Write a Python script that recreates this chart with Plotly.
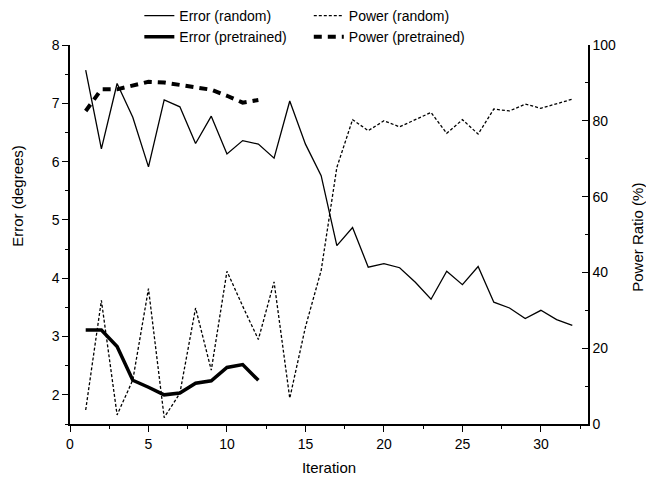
import plotly.graph_objects as go

iterations_random = list(range(1, 33))
error_random = [7.57, 6.22, 7.34, 6.76, 5.91, 7.06, 6.94, 6.31, 6.78, 6.13,
                6.36, 6.30, 6.06, 7.04, 6.30, 5.76, 4.56, 4.87, 4.19, 4.25,
                4.18, 3.93, 3.64, 4.12, 3.89, 4.20, 3.59, 3.49, 3.31, 3.45,
                3.29, 3.19]
power_random = [3.7, 32.6, 2.4, 11.6, 35.7, 1.7, 8.1, 30.6, 14.2, 40.3,
                31.1, 22.3, 37.5, 6.8, 25.6, 40.5, 67.7, 80.3, 77.4, 80.0,
                78.4, 80.4, 82.2, 76.7, 80.3, 76.5, 83.1, 82.6, 84.4, 83.3,
                84.6, 85.7]

iterations_pre = list(range(1, 13))
error_pre = [3.11, 3.11, 2.83, 2.25, 2.13, 2.00, 2.03, 2.20, 2.24, 2.47, 2.52, 2.25]
power_pre = [82.6, 88.3, 88.3, 89.2, 90.3, 90.1, 89.4, 88.8, 88.2, 86.6, 84.8, 85.5]

FONT = "Liberation Sans, Arial, sans-serif"

fig = go.Figure()
fig.add_trace(go.Scatter(x=iterations_random, y=error_random, mode="lines",
                         name="Error (random)", line=dict(color="black", width=1.3),
                         legend="legend"))
fig.add_trace(go.Scatter(x=iterations_pre, y=error_pre, mode="lines",
                         name="Error (pretrained)", line=dict(color="black", width=3.5),
                         legend="legend"))
fig.add_trace(go.Scatter(x=iterations_random, y=power_random, mode="lines",
                         name="Power (random)", yaxis="y2",
                         line=dict(color="black", width=1.3, dash="3px,2px"),
                         legend="legend2"))
fig.add_trace(go.Scatter(x=iterations_pre, y=power_pre, mode="lines",
                         name="Power (pretrained)", yaxis="y2",
                         line=dict(color="black", width=4, dash="8px,6px"),
                         legend="legend2"))

axis_common = dict(showgrid=False, zeroline=False, showline=True, linecolor="black",
                   linewidth=1.5, tickcolor="black", tickwidth=1.3,
                   tickfont=dict(family=FONT, size=14, color="black"))

fig.update_layout(
    width=646, height=483,
    margin=dict(l=70, r=58, t=45, b=59, autoexpand=False),
    paper_bgcolor="white", plot_bgcolor="white",
    font=dict(family=FONT, size=14, color="black"),
    xaxis=dict(range=[0, 33], tick0=0, dtick=5, ticks="outside", ticklen=6,
               minor=dict(dtick=2.5, ticks="outside", ticklen=3, tickcolor="black"),
               title=dict(text="Iteration", font=dict(family=FONT, size=15), standoff=12),
               **axis_common),
    yaxis=dict(range=[1.5, 8], tick0=2, dtick=1, ticks="outside", ticklen=6,
               minor=dict(dtick=0.5, ticks="outside", ticklen=3, tickcolor="black"),
               **axis_common),
    yaxis2=dict(range=[0, 100], overlaying="y", side="right", tick0=0, dtick=20,
                ticks="inside", ticklen=6,
                minor=dict(dtick=10, ticks="inside", ticklen=3, tickcolor="black"),
                **axis_common),
    legend=dict(x=0.2157, y=1.0, xref="container", yref="container",
                xanchor="left", yanchor="top", orientation="v",
                bgcolor="rgba(0,0,0,0)", font=dict(family=FONT, size=14),
                itemwidth=30, tracegroupgap=0),
    legend2=dict(x=0.478, y=1.0, xref="container", yref="container",
                 xanchor="left", yanchor="top", orientation="v",
                 bgcolor="rgba(0,0,0,0)", font=dict(family=FONT, size=14),
                 itemwidth=30, tracegroupgap=0),
    annotations=[
        dict(text="Error (degrees)", textangle=-90, xref="paper", yref="paper",
             x=-0.1004, y=0.602, xanchor="center", yanchor="middle", showarrow=False,
             font=dict(family=FONT, size=15, color="black")),
        dict(text="Power Ratio (%)", textangle=-90, xref="paper", yref="paper",
             x=1.0965, y=0.494, xanchor="center", yanchor="middle", showarrow=False,
             font=dict(family=FONT, size=15, color="black")),
    ],
)

fig.write_html("out.html")
